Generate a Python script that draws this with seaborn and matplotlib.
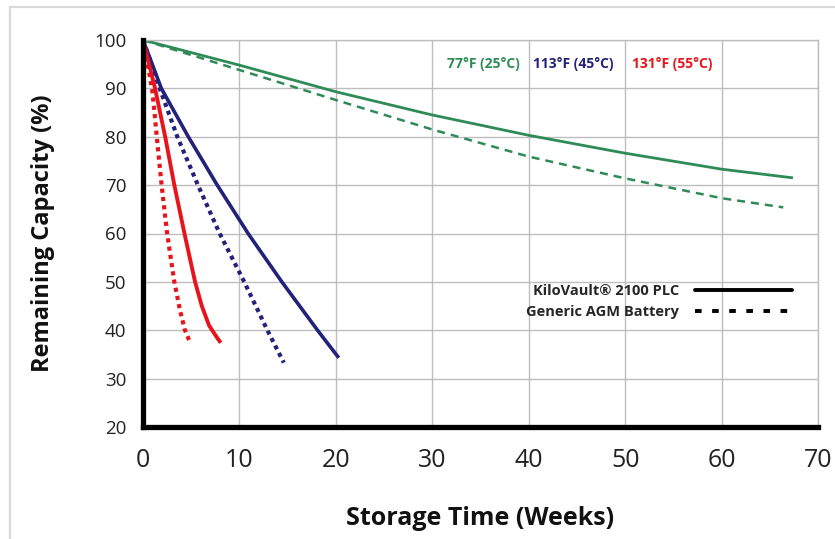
import matplotlib
matplotlib.use("Agg")
import matplotlib.pyplot as plt
from matplotlib.lines import Line2D
from matplotlib.patches import Rectangle
import seaborn as sns
import pandas as pd

# ---- data ----
green_solid_x = [0, 10, 20, 30, 40, 50, 60, 67.4]
green_solid_y = [100, 94.8, 89.3, 84.5, 80.3, 76.6, 73.3, 71.5]
green_dash_x = [0, 10, 20, 30, 40, 50, 60, 66.4]
green_dash_y = [100, 93.8, 87.6, 81.5, 75.9, 71.4, 67.3, 65.4]
blue_solid_x = [0, 0.9, 1.9, 4.7, 7.7, 10.9, 14.4, 18.1, 20.3]
blue_solid_y = [100, 95.3, 90, 80, 70, 60, 50, 40, 34.3]
blue_dot_x = [0, 0.8, 1.73, 3.56, 5.7, 7.95, 10.5, 12.9, 14.6]
blue_dot_y = [100, 95.5, 90, 80, 70, 60, 50, 40, 33.3]
red_solid_x = [0, 1.25, 2.3, 3.25, 4.3, 5.4, 6.1, 6.85, 7.5, 8.06]
red_solid_y = [100, 90, 80, 70, 60, 50, 45, 41, 39, 37.4]
red_dot_x = [0, 0.45, 1.0, 1.45, 1.93, 2.5, 3.25, 3.85, 4.35, 4.84]
red_dot_y = [100, 95.5, 89, 79.5, 70, 60, 50, 44, 40, 37.7]

temp_labels = ["77°F (25°C)", "113°F (45°C)", "131°F (55°C)"]
legend_labels = ["KiloVault® 2100 PLC", "Generic AGM Battery"]
x_ticks = [0, 10, 20, 30, 40, 50, 60, 70]
y_ticks = [20, 30, 40, 50, 60, 70, 80, 90, 100]

GREEN = "#2e8b57"
BLUE = "#22227a"
RED = "#e8141c"

sns.set_theme(style="white")
plt.rcParams["font.family"] = ["Open Sans", "DejaVu Sans"]

fig = plt.figure(figsize=(8.35, 5.39), dpi=100)
ax = fig.add_axes([143 / 835, 1 - 427 / 539, 675 / 835, 387 / 539])

series = [
    (green_solid_x, green_solid_y, GREEN, 2.0, None),
    (green_dash_x, green_dash_y, GREEN, 1.8, (3.2, 2.4)),
    (blue_solid_x, blue_solid_y, BLUE, 2.6, None),
    (blue_dot_x, blue_dot_y, BLUE, 3.0, (1.0, 1.0)),
    (red_solid_x, red_solid_y, RED, 2.8, None),
    (red_dot_x, red_dot_y, RED, 3.0, (1.0, 1.0)),
]
for xs, ys, col, lw, dash in series:
    df = pd.DataFrame({"Weeks": xs, "Capacity": ys})
    sns.lineplot(data=df, x="Weeks", y="Capacity", ax=ax, color=col, lw=lw,
                 sort=False, estimator=None)
    line = ax.lines[-1]
    if dash is not None:
        line.set_dashes(dash)
    line.set_dash_capstyle("butt")
    line.set_solid_capstyle("butt")
    line.set_solid_joinstyle("round")

ax.set_xlim(0, 70)
ax.set_ylim(20, 100)
ax.set_xticks(x_ticks)
ax.set_yticks(y_ticks)
ax.set_xticklabels([str(t) for t in x_ticks], fontsize=18)
ax.set_yticklabels([str(t) for t in y_ticks], fontsize=13.5)
ax.tick_params(axis="x", length=0, pad=15, colors="#222222")
ax.tick_params(axis="y", length=0, pad=12, colors="#222222")
ax.grid(True, color="#bdbdbd", lw=1.0)
ax.set_axisbelow(True)

for side in ["left", "bottom"]:
    ax.spines[side].set_color("black")
    ax.spines[side].set_linewidth(3.8)
    ax.spines[side].set_zorder(5)
for side in ["top", "right"]:
    ax.spines[side].set_color("#bdbdbd")
    ax.spines[side].set_linewidth(1.0)

ax.set_xlabel("Storage Time (Weeks)", fontsize=18, fontweight="bold",
              labelpad=24, color="#111111")
ax.set_ylabel("Remaining Capacity (%)", fontsize=17, fontweight="bold",
              labelpad=28, color="#111111")

# temperature labels
for lbl, col, xc in zip(temp_labels, [GREEN, BLUE, RED], [35.3, 44.6, 54.9]):
    ax.text(xc, 95.0, lbl, color=col, fontsize=10, fontweight="bold",
            ha="center", va="center")

# legend
handles = [Line2D([0], [0], color="black", lw=2.8),
           Line2D([0], [0], color="black", lw=2.8, dashes=(1.7, 2.7))]
leg = ax.legend(handles, legend_labels, loc="upper left",
                bbox_to_anchor=(0.568, 0.37), frameon=False,
                markerfirst=False, handlelength=6.6, handletextpad=1.1,
                labelspacing=0.47, borderpad=0, borderaxespad=0,
                prop={"weight": "bold", "size": 10.5})

# outer light frame
fig.patches.append(Rectangle((10 / 835, -0.05), 1.1, 1.05 - 7 / 539,
                             transform=fig.transFigure, fill=False,
                             edgecolor="#d9d9d9", lw=1.6))

fig.savefig("out.png", dpi=100)
